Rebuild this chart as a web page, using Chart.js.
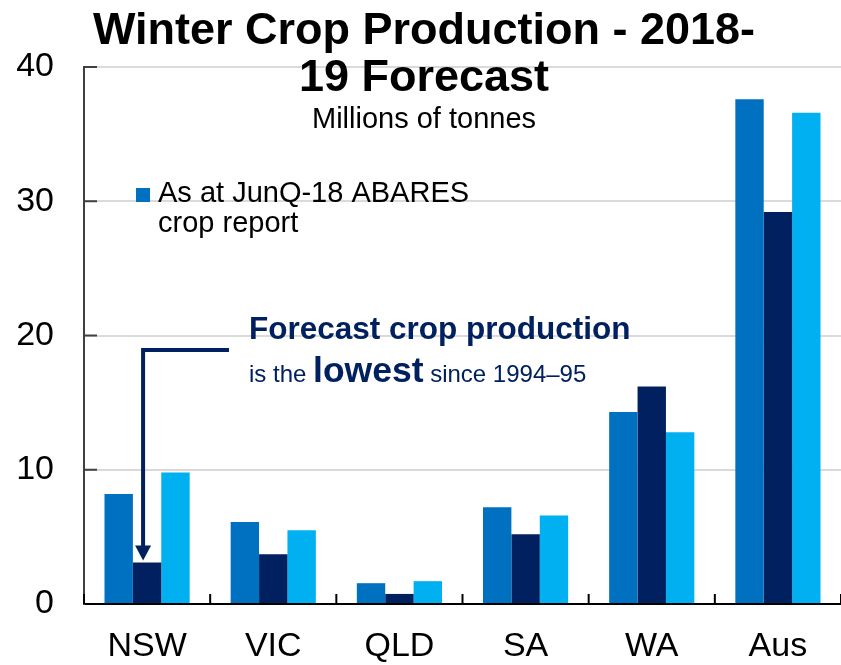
<!DOCTYPE html>
<html lang="en">
<head>
    <meta charset="UTF-8">
    <title>Winter Crop Production - 2018-19 Forecast</title>
    <script src="https://cdn.jsdelivr.net/npm/chart.js"></script>
    <style>
        body {
            margin: 0;
            background: #ffffff;
        }
        canvas {
            display: block;
        }
    </style>
</head>
<body>
    <canvas id="cropChart" width="841" height="665"></canvas>

    <script>
        // data (millions of tonnes)
        const states = ['NSW', 'VIC', 'QLD', 'SA', 'WA', 'Aus'];
        const junq18 = [8.2, 6.1, 1.55, 7.2, 14.3, 37.6];
        const forecast = [3.1, 3.7, 0.75, 5.2, 16.2, 29.2];
        const previous = [9.8, 5.5, 1.7, 6.6, 12.8, 36.6];
        const yTicks = [0, 10, 20, 30, 40];

        const seriesLabels = ['As at JunQ-18 ABARES crop report', 'Forecast', 'Previous'];
        const seriesColors = ['#0070c0', '#002060', '#00b0f0'];
        const legendLines = ['As at JunQ-18 ABARES', 'crop report'];

        const FONT = '"Liberation Sans", Arial, sans-serif';
        const NAVY = '#002060';

        const overlay = {
            id: 'overlay',
            afterDraw(chart) {
                const ctx = chart.ctx;
                const x = chart.scales.x;
                const y = chart.scales.y;
                const area = chart.chartArea;
                ctx.save();

                // inner tick marks on the y axis
                ctx.strokeStyle = '#404040';
                ctx.lineWidth = 2;
                yTicks.forEach(v => {
                    if (v === 0) return;
                    const py = y.getPixelForValue(v);
                    ctx.beginPath();
                    ctx.moveTo(area.left, py);
                    ctx.lineTo(area.left + 13, py);
                    ctx.stroke();
                });
                // inner tick marks between categories
                ctx.strokeStyle = '#000';
                for (let i = 0; i <= states.length; i++) {
                    const px = x.getPixelForValue(i - 0.5);
                    ctx.beginPath();
                    ctx.moveTo(px, area.bottom);
                    ctx.lineTo(px, area.bottom - 10);
                    ctx.stroke();
                }

                // title
                ctx.fillStyle = '#000';
                ctx.textAlign = 'center';
                ctx.textBaseline = 'alphabetic';
                ctx.font = 'bold 45px ' + FONT;
                ctx.fillText('Winter Crop Production - 2018-', 424, 44);
                ctx.fillText('19 Forecast', 424, 91);
                ctx.font = '29px ' + FONT;
                ctx.fillText('Millions of tonnes', 424, 128);

                // legend (only the first series is shown)
                ctx.fillStyle = seriesColors[0];
                ctx.fillRect(136, 188, 14, 14);
                ctx.fillStyle = '#000';
                ctx.textAlign = 'left';
                ctx.font = '29px ' + FONT;
                ctx.fillText(legendLines[0], 158, 202);
                ctx.fillText(legendLines[1], 158, 232);

                // annotation
                ctx.fillStyle = NAVY;
                ctx.font = 'bold 31.5px ' + FONT;
                ctx.fillText('Forecast crop production', 249, 339);
                let tx = 249;
                const parts = [
                    ['is the ', '24px '],
                    ['lowest', 'bold 35.5px '],
                    [' since 1994\u201395', '24px ']
                ];
                parts.forEach(p => {
                    ctx.font = p[1] + FONT;
                    ctx.fillText(p[0], tx, 382);
                    tx += ctx.measureText(p[0]).width;
                });

                // arrow down to the NSW forecast bar
                const bar = chart.getDatasetMeta(1).data[0];
                const ax = bar.x - 4;
                const tipY = bar.y - 2;
                ctx.strokeStyle = NAVY;
                ctx.lineWidth = 4;
                ctx.beginPath();
                ctx.moveTo(229, 350);
                ctx.lineTo(ax, 350);
                ctx.lineTo(ax, tipY - 14);
                ctx.stroke();
                ctx.beginPath();
                ctx.moveTo(ax - 8, tipY - 15);
                ctx.lineTo(ax + 8, tipY - 15);
                ctx.lineTo(ax, tipY);
                ctx.closePath();
                ctx.fill();

                ctx.restore();
            }
        };

        Chart.defaults.font.family = FONT;

        new Chart(document.getElementById('cropChart'), {
            type: 'bar',
            data: {
                labels: states,
                datasets: [junq18, forecast, previous].map((d, i) => ({
                    label: seriesLabels[i],
                    data: d,
                    backgroundColor: seriesColors[i],
                    borderWidth: 0,
                    categoryPercentage: 0.675,
                    barPercentage: 1
                }))
            },
            options: {
                responsive: false,
                animation: false,
                layout: { padding: { top: 67, right: 0, left: 0, bottom: 0 } },
                plugins: {
                    legend: { display: false },
                    title: { display: false },
                    tooltip: { enabled: false }
                },
                scales: {
                    x: {
                        grid: { display: false, drawTicks: false },
                        border: { color: '#000', width: 2 },
                        ticks: { color: '#000', font: { size: 34 }, padding: 22 },
                        afterFit: s => { s.height = 61; }
                    },
                    y: {
                        min: 0,
                        max: 40,
                        afterBuildTicks: s => { s.ticks = yTicks.map(v => ({ value: v })); },
                        grid: { color: '#dadada', lineWidth: 2, drawTicks: false },
                        border: { color: '#404040', width: 2 },
                        ticks: { color: '#000', font: { size: 34 }, padding: 30 },
                        afterFit: s => { s.width = 84; }
                    }
                }
            },
            plugins: [overlay]
        });
    </script>
</body>
</html>
